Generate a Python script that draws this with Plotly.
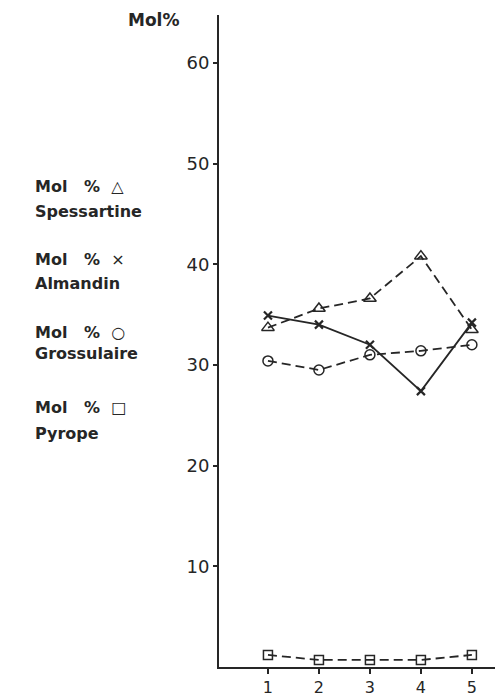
import plotly.graph_objects as go

samples = [1, 2, 3, 4, 5]
spessartine = [33.7, 35.6, 36.6, 40.8, 33.5]
almandin = [34.9, 34.0, 32.0, 27.4, 34.2]
grossulaire = [30.4, 29.5, 31.0, 31.4, 32.0]
pyrope = [1.2, 0.7, 0.7, 0.7, 1.2]
y_ticks = [10, 20, 30, 40, 50, 60]

legend_rows = [
    ("△", "Spessartine"),
    ("×", "Almandin"),
    ("○", "Grossulaire"),
    ("□", "Pyrope"),
]

# page is shown with an 8px body margin: figure spans page pixels 8..503, 8..697
OFF = 8
W, H = 503 - OFF, 697 - OFF
L, R, T, B = 219 - OFF, 0, 15 - OFF, 28
ink = "#262626"
FONT = "DejaVu Sans"

def px_x(p):
    return (p - OFF - L) / (W - L - R)

def px_y(p):
    return (H - B - (p - OFF)) / (H - T - B)

fig = go.Figure()
line_w = 1.8
dash = "9px,5px"
fig.add_trace(go.Scatter(x=samples, y=spessartine, mode="lines+markers",
    line=dict(color=ink, width=line_w, dash=dash),
    marker=dict(symbol="triangle-up-open", size=11, color=ink, line=dict(width=1.5))))
fig.add_trace(go.Scatter(x=samples, y=almandin, mode="lines+markers",
    line=dict(color=ink, width=line_w),
    marker=dict(symbol="x-thin-open", size=8, color=ink, line=dict(width=2.2, color=ink))))
fig.add_trace(go.Scatter(x=samples, y=grossulaire, mode="lines+markers",
    line=dict(color=ink, width=line_w, dash=dash),
    marker=dict(symbol="circle-open", size=10, color=ink, line=dict(width=1.5))))
fig.add_trace(go.Scatter(x=samples, y=pyrope, mode="lines+markers",
    line=dict(color=ink, width=line_w, dash=dash),
    marker=dict(symbol="square-open", size=9, color=ink, line=dict(width=1.5))))

ann = []
ann.append(dict(text="<b>Mol%</b>", x=px_x(126), y=px_y(20), xref="paper", yref="paper",
                xanchor="left", yanchor="middle", showarrow=False,
                font=dict(family=FONT, size=17, color=ink)))
row_pix = [(187, 212), (260, 284), (333, 355), (409, 435)]
for (sym, name), (y1, y2) in zip(legend_rows, row_pix):
    ann.append(dict(text="<b>Mol&nbsp;&nbsp;&nbsp;%&nbsp;&nbsp;</b>" + sym,
                    x=px_x(33), y=px_y(y1), xref="paper", yref="paper",
                    xanchor="left", yanchor="middle", showarrow=False,
                    font=dict(family=FONT, size=16, color=ink)))
    ann.append(dict(text="<b>" + name + "</b>", x=px_x(33), y=px_y(y2), xref="paper", yref="paper",
                    xanchor="left", yanchor="middle", showarrow=False,
                    font=dict(family=FONT, size=16, color=ink)))

fig.update_layout(
    width=W, height=H, margin=dict(l=L, r=R, t=T, b=B),
    paper_bgcolor="white", plot_bgcolor="white", showlegend=False,
    annotations=ann,
    xaxis=dict(range=[0.04, 5.61], tickvals=samples, ticks="outside", ticklen=5,
               tickwidth=1.5, tickcolor=ink, showline=True, linecolor=ink, linewidth=2,
               showgrid=False, zeroline=False,
               tickfont=dict(family=FONT, size=16, color=ink)),
    yaxis=dict(range=[0, 64.75], tickvals=y_ticks, ticks="outside", ticklen=4,
               tickwidth=1.5, tickcolor=ink, showline=True, linecolor=ink, linewidth=2,
               showgrid=False, zeroline=False,
               tickfont=dict(family=FONT, size=18, color=ink)),
)
fig.write_html("out.html")
